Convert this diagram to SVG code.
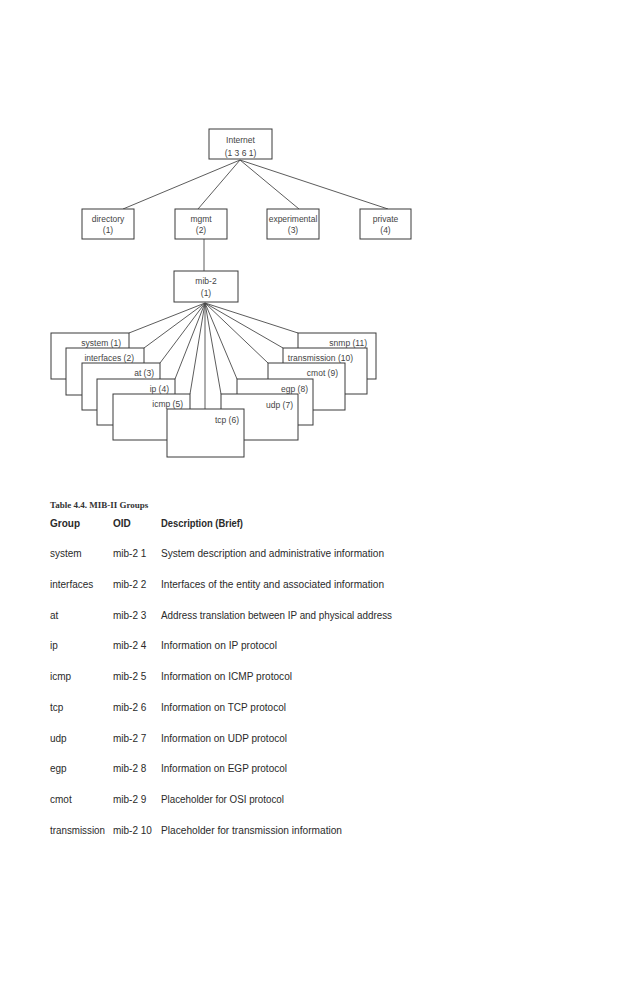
<svg xmlns="http://www.w3.org/2000/svg" width="638" height="984" viewBox="0 0 638 984">
<style>
.bx{fill:#fff;stroke:#3a3a3a;stroke-width:1}
.ln{stroke:#4a4a4a;stroke-width:0.9;fill:none}
.nt{font-family:"Liberation Sans",Arial,sans-serif;font-size:8.5px;fill:#444}
.c{text-anchor:middle}
.r{text-anchor:end}
.tt{font-family:"Liberation Serif","Times New Roman",serif;font-size:9px;font-weight:bold;fill:#333}
.tb{font-family:"Liberation Sans",Arial,sans-serif;font-size:10px;fill:#2a2a2a}
.hd{font-weight:bold}
</style>
<rect width="638" height="984" fill="#fff"/>
<g id="connectors">
<line class="ln" x1="240" y1="160" x2="123" y2="209"/>
<line class="ln" x1="240" y1="160" x2="198" y2="209"/>
<line class="ln" x1="240" y1="160" x2="299" y2="209"/>
<line class="ln" x1="240" y1="160" x2="388" y2="209"/>
<line class="ln" x1="204" y1="239" x2="204" y2="271"/>
<line class="ln" x1="205" y1="303" x2="129" y2="333"/>
<line class="ln" x1="205" y1="303" x2="144" y2="348"/>
<line class="ln" x1="205" y1="303" x2="160" y2="363"/>
<line class="ln" x1="205" y1="303" x2="175" y2="379"/>
<line class="ln" x1="205" y1="303" x2="190" y2="394"/>
<line class="ln" x1="205" y1="303" x2="205" y2="409"/>
<line class="ln" x1="205" y1="303" x2="221" y2="394"/>
<line class="ln" x1="205" y1="303" x2="237" y2="379"/>
<line class="ln" x1="205" y1="303" x2="268" y2="363"/>
<line class="ln" x1="205" y1="303" x2="283" y2="348"/>
<line class="ln" x1="205" y1="303" x2="298" y2="333"/>
</g>
<g id="internet"><rect class="bx" x="209" y="129" width="63" height="30"/><text class="nt c" x="240.5" y="143">Internet</text><text class="nt c" x="240.5" y="156">(1 3 6 1)</text></g>
<g id="directory"><rect class="bx" x="82" y="209" width="52" height="30"/><text class="nt c" x="108" y="222">directory</text><text class="nt c" x="108" y="233">(1)</text></g>
<g id="mgmt"><rect class="bx" x="175" y="209" width="52" height="30"/><text class="nt c" x="201" y="222">mgmt</text><text class="nt c" x="201" y="233">(2)</text></g>
<g id="experimental"><rect class="bx" x="267" y="209" width="52" height="30"/><text class="nt c" x="293" y="222">experimental</text><text class="nt c" x="293" y="233">(3)</text></g>
<g id="private"><rect class="bx" x="360" y="209" width="51" height="30"/><text class="nt c" x="385.5" y="222">private</text><text class="nt c" x="385.5" y="233">(4)</text></g>
<g id="mib2"><rect class="bx" x="174" y="271" width="64" height="31"/><text class="nt c" x="206" y="284">mib-2</text><text class="nt c" x="206" y="296">(1)</text></g>
<g id="system"><rect class="bx" x="51" y="333" width="78" height="46"/><text class="nt r" x="121" y="346">system (1)</text></g>
<g id="interfaces"><rect class="bx" x="66" y="348" width="78" height="47"/><text class="nt r" x="134" y="361">interfaces (2)</text></g>
<g id="at"><rect class="bx" x="82" y="363" width="78" height="47"/><text class="nt r" x="154" y="376">at (3)</text></g>
<g id="ip"><rect class="bx" x="97" y="379" width="78" height="46"/><text class="nt r" x="169" y="392">ip (4)</text></g>
<g id="icmp"><rect class="bx" x="113" y="394" width="77" height="46"/><text class="nt r" x="183" y="407">icmp (5)</text></g>
<g id="snmp"><rect class="bx" x="298" y="333" width="78" height="46"/><text class="nt r" x="367" y="346">snmp (11)</text></g>
<g id="transmission"><rect class="bx" x="283" y="348" width="84" height="46"/><text class="nt r" x="353" y="361">transmission (10)</text></g>
<g id="cmot"><rect class="bx" x="268" y="363" width="77" height="47"/><text class="nt r" x="338" y="376">cmot (9)</text></g>
<g id="egp"><rect class="bx" x="237" y="379" width="76" height="46"/><text class="nt r" x="308" y="392">egp (8)</text></g>
<g id="udp"><rect class="bx" x="221" y="394" width="77" height="46"/><text class="nt r" x="293" y="408">udp (7)</text></g>
<g id="tcp"><rect class="bx" x="167" y="409" width="77" height="48"/><text class="nt r" x="239" y="423">tcp (6)</text></g>
<g id="table">
<text class="tt" x="50" y="508">Table 4.4. MIB-II Groups</text>
<text class="tb hd" x="50" y="527">Group</text>
<text class="tb hd" x="113" y="527">OID</text>
<text class="tb hd" x="161" y="527" textLength="82" lengthAdjust="spacingAndGlyphs">Description (Brief)</text>
<text class="tb" x="50" y="557">system</text><text class="tb" x="113" y="557">mib-2 1</text><text class="tb" x="161" y="557" textLength="223" lengthAdjust="spacingAndGlyphs">System description and administrative information</text>
<text class="tb" x="50" y="588">interfaces</text><text class="tb" x="113" y="588">mib-2 2</text><text class="tb" x="161" y="588" textLength="223" lengthAdjust="spacingAndGlyphs">Interfaces of the entity and associated information</text>
<text class="tb" x="50" y="619">at</text><text class="tb" x="113" y="619">mib-2 3</text><text class="tb" x="161" y="619" textLength="231" lengthAdjust="spacingAndGlyphs">Address translation between IP and physical address</text>
<text class="tb" x="50" y="649">ip</text><text class="tb" x="113" y="649">mib-2 4</text><text class="tb" x="161" y="649" textLength="116" lengthAdjust="spacingAndGlyphs">Information on IP protocol</text>
<text class="tb" x="50" y="680">icmp</text><text class="tb" x="113" y="680">mib-2 5</text><text class="tb" x="161" y="680" textLength="131" lengthAdjust="spacingAndGlyphs">Information on ICMP protocol</text>
<text class="tb" x="50" y="711">tcp</text><text class="tb" x="113" y="711">mib-2 6</text><text class="tb" x="161" y="711" textLength="125" lengthAdjust="spacingAndGlyphs">Information on TCP protocol</text>
<text class="tb" x="50" y="742">udp</text><text class="tb" x="113" y="742">mib-2 7</text><text class="tb" x="161" y="742" textLength="126" lengthAdjust="spacingAndGlyphs">Information on UDP protocol</text>
<text class="tb" x="50" y="772">egp</text><text class="tb" x="113" y="772">mib-2 8</text><text class="tb" x="161" y="772" textLength="126" lengthAdjust="spacingAndGlyphs">Information on EGP protocol</text>
<text class="tb" x="50" y="803">cmot</text><text class="tb" x="113" y="803">mib-2 9</text><text class="tb" x="161" y="803" textLength="123" lengthAdjust="spacingAndGlyphs">Placeholder for OSI protocol</text>
<text class="tb" x="50" y="834" textLength="55" lengthAdjust="spacingAndGlyphs">transmission</text><text class="tb" x="113" y="834">mib-2 10</text><text class="tb" x="161" y="834" textLength="181" lengthAdjust="spacingAndGlyphs">Placeholder for transmission information</text>
</g>
</svg>
